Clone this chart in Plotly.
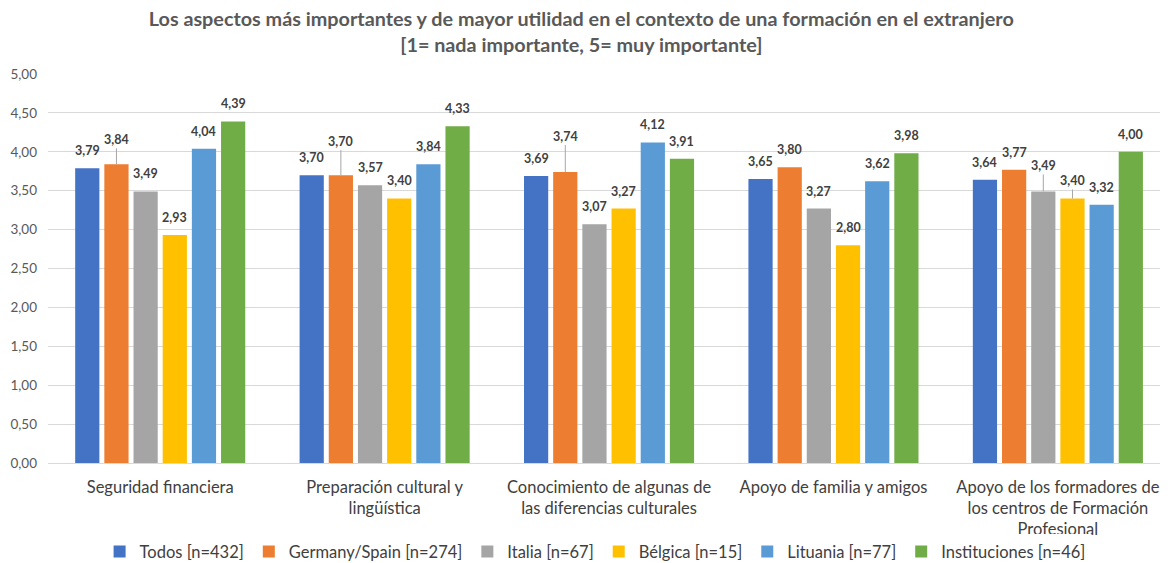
import plotly.graph_objects as go

categories = [
    "Seguridad financiera",
    "Preparación cultural y<br>lingüística",
    "Conocimiento de algunas de<br>las diferencias culturales",
    "Apoyo de familia y amigos",
    "Apoyo de los formadores de<br>los centros de Formación<br>Profesional",
]
series_names = [
    "Todos [n=432]",
    "Germany/Spain [n=274]",
    "Italia [n=67]",
    "Bélgica [n=15]",
    "Lituania [n=77]",
    "Instituciones [n=46]",
]
todos = [3.79, 3.70, 3.69, 3.65, 3.64]
germany_spain = [3.84, 3.70, 3.74, 3.80, 3.77]
italia = [3.49, 3.57, 3.07, 3.27, 3.49]
belgica = [2.93, 3.40, 3.27, 2.80, 3.40]
lituania = [4.04, 3.84, 4.12, 3.62, 3.32]
instituciones = [4.39, 4.33, 3.91, 3.98, 4.00]
all_series = [todos, germany_spain, italia, belgica, lituania, instituciones]
y_ticks = [0, 0.5, 1, 1.5, 2, 2.5, 3, 3.5, 4, 4.5, 5]

colors = ["#4472C4", "#ED7D31", "#A5A5A5", "#FFC000", "#5B9BD5", "#70AD47"]
FONT = "Lato"
BARGAP = 0.22
GROUPGAP = 0.17
# labels that Excel moved up with a leader line: (series, category) -> pixel offset
leader = {(1, 0): 25, (1, 1): 34, (1, 2): 36, (2, 4): 26, (3, 4): 18}

xs = list(range(len(categories)))
fig = go.Figure()
for name, vals, c in zip(series_names, all_series, colors):
    fig.add_trace(go.Bar(x=xs, y=vals, name=name, marker=dict(color=c, line=dict(width=0))))

slot = (1 - BARGAP) / len(all_series)
annotations = []
for i, vals in enumerate(all_series):
    for j, v in enumerate(vals):
        xc = j - (1 - BARGAP) / 2 + slot * (i + 0.5)
        txt = f"{v:.2f}".replace(".", ",")
        base = dict(x=xc, y=v, xref="x", yref="y", text=f"<b>{txt}</b>",
                    font=dict(family=FONT, size=12.5, color="#404040"))
        if (i, j) in leader:
            annotations.append(dict(**base, showarrow=True, ax=0, ay=-leader[(i, j)],
                                    arrowhead=0, arrowwidth=1, arrowcolor="#A6A6A6",
                                    standoff=0, startstandoff=0))
        else:
            annotations.append(dict(**base, showarrow=False, yanchor="bottom", yshift=8))

fig.update_layout(
    width=1170, height=563,
    barmode="group", bargap=BARGAP, bargroupgap=GROUPGAP,
    separators=",.",
    plot_bgcolor="white", paper_bgcolor="white",
    margin=dict(l=40, r=18, t=66, b=108, autoexpand=False),
    font=dict(family=FONT, color="#595959"),
    title=dict(
        text="<b>Los aspectos más importantes y de mayor utilidad en el contexto de una formación en el extranjero<br>[1= nada importante, 5= muy importante]</b>",
        x=0.49, xanchor="center", y=0.968, yanchor="top",
        font=dict(family=FONT, size=19.8, color="#595959"),
    ),
    xaxis=dict(
        tickmode="array", tickvals=xs, ticktext=categories,
        range=[-0.5, 4.455], showgrid=False, zeroline=False,
        showline=False, ticks="", automargin=False, ticklabelstandoff=12,
        tickfont=dict(family=FONT, size=16.5, color="#404040"),
    ),
    yaxis=dict(
        range=[0, 5], tickmode="array", tickvals=y_ticks, tickformat=".2f",
        showgrid=True, gridcolor="#D9D9D9", gridwidth=1,
        zeroline=True, zerolinecolor="#D9D9D9", zerolinewidth=1,
        showline=False, ticks="", ticklabelstandoff=10, automargin=False,
        tickfont=dict(family=FONT, size=13.5, color="#595959"),
    ),
    legend=dict(
        orientation="h", x=0.492, xanchor="center", y=-0.228, yanchor="middle",
        font=dict(family=FONT, size=16.5, color="#404040"),
        itemwidth=30, traceorder="normal",
    ),
    annotations=annotations,
)

fig.write_html("out.html")
